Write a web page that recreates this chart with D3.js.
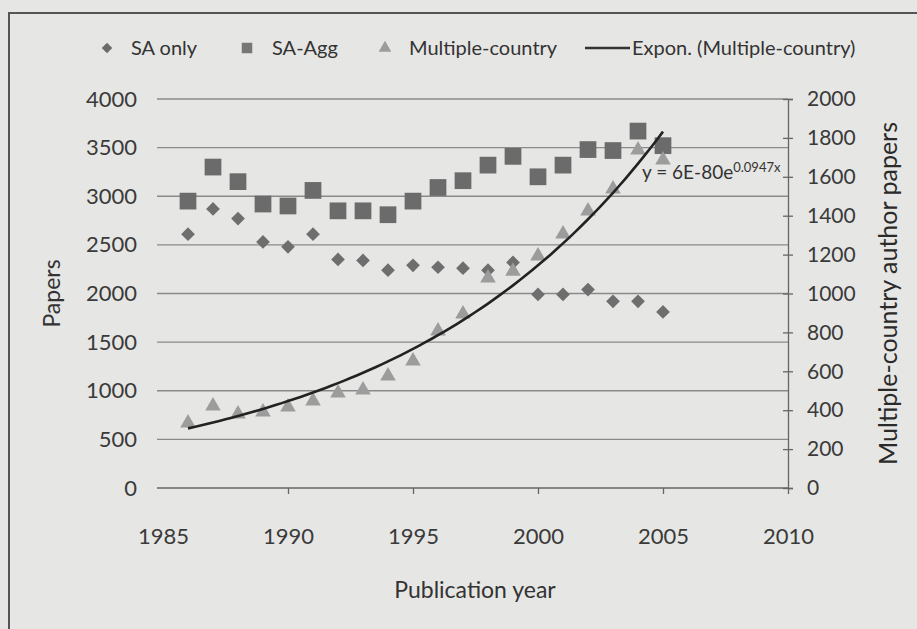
<!DOCTYPE html>
<html lang="en">
<head>
<meta charset="UTF-8">
<title>Papers by publication year</title>
<script src="https://d3js.org/d3.v7.min.js"></script>
<style>
  body { margin: 0; background: #e6e6e4; }
  svg { display: block; font-family: Lato, "Open Sans", sans-serif; }
  .tick-label { fill: #3a3a3a; }
</style>
</head>
<body>
<svg id="chart" width="917" height="629"></svg>
<script>
// values
const years = [1986, 1987, 1988, 1989, 1990, 1991, 1992, 1993, 1994, 1995,
               1996, 1997, 1998, 1999, 2000, 2001, 2002, 2003, 2004, 2005];
const saOnly = [2610, 2870, 2770, 2530, 2480, 2610, 2350, 2340, 2240, 2290,
                2270, 2260, 2240, 2320, 1990, 1990, 2040, 1920, 1920, 1810];
const saAgg = [2950, 3300, 3150, 2920, 2900, 3060, 2850, 2850, 2810, 2950,
               3090, 3160, 3320, 3410, 3200, 3320, 3480, 3470, 3670, 3520];
const multiCountry = [334, 422, 380, 391, 416, 447, 488, 504, 576, 653,
                      807, 895, 1080, 1115, 1193, 1306, 1424, 1537, 1738, 1686];
const leftTicks = [0, 500, 1000, 1500, 2000, 2500, 3000, 3500, 4000];
const rightTicks = [0, 200, 400, 600, 800, 1000, 1200, 1400, 1600, 1800, 2000];
const xTicks = [1985, 1990, 1995, 2000, 2005, 2010];

const svg = d3.select("#chart");
const plotLeft = 157, plotRight = 788, plotTop = 99, plotBottom = 488;

const x = d3.scaleLinear().domain([1985, 2010]).range([163, plotRight]);
const yL = d3.scaleLinear().domain([0, 4000]).range([plotBottom, plotTop]);
const yR = d3.scaleLinear().domain([0, 2000]).range([plotBottom, plotTop]);
const fmt = d3.format("d");

// page border of the scanned box
svg.append("path")
    .attr("d", `M9,629 V13 H917`)
    .attr("fill", "none")
    .attr("stroke", "#555")
    .attr("stroke-width", 2);

// gridlines
svg.append("g").selectAll("line")
    .data(leftTicks.filter(d => d > 0))
    .join("line")
    .attr("x1", plotLeft).attr("x2", plotRight)
    .attr("y1", d => yL(d)).attr("y2", d => yL(d))
    .attr("stroke", "#8a8a8a").attr("stroke-width", 1.3);

// left axis (labels only)
const gl = svg.append("g")
    .attr("transform", `translate(${plotLeft - 14},0)`)
    .call(d3.axisLeft(yL).tickValues(leftTicks).tickFormat(fmt).tickSize(0).tickPadding(6));
gl.select(".domain").remove();
gl.selectAll("text").attr("class", "tick-label").style("font-size", "22px")
    .style("font-family", "Lato, sans-serif");

// right axis
const gr = svg.append("g")
    .attr("transform", `translate(${plotRight},0)`)
    .call(d3.axisRight(yR).tickValues(rightTicks).tickFormat(fmt).tickSize(5).tickPadding(14));
gr.select(".domain").attr("stroke", "#666").attr("stroke-width", 1.3);
gr.selectAll(".tick line").attr("x1", -5).attr("stroke", "#666").attr("stroke-width", 1.3);
gr.selectAll("text").attr("class", "tick-label").style("font-size", "21px")
    .style("font-family", "Lato, sans-serif");

// bottom axis
const gb = svg.append("g")
    .attr("transform", `translate(0,${plotBottom})`)
    .call(d3.axisBottom(x).tickValues(xTicks).tickFormat(fmt).tickSize(6).tickPadding(34));
gb.select(".domain").attr("d", `M${plotLeft},0H${plotRight}`).attr("stroke", "#666").attr("stroke-width", 1.3);
gb.selectAll(".tick line").attr("stroke", "#666").attr("stroke-width", 1.3);
gb.selectAll(".tick").filter(d => d === 1985).select("line").remove();
gb.selectAll("text").attr("class", "tick-label").style("font-size", "22px")
    .style("font-family", "Lato, sans-serif");

// exponential trendline fitted to multiple-country series (least squares on ln y)
const lx = years, ly = multiCountry.map(v => Math.log(v));
const mx = d3.mean(lx), my = d3.mean(ly);
const b = d3.sum(lx, (v, i) => (v - mx) * (ly[i] - my)) / d3.sum(lx, v => (v - mx) * (v - mx));
const a = my - b * mx;
const trendX = d3.range(years[0], years[years.length - 1] + 0.001, 0.25);
const line = d3.line().x(d => x(d)).y(d => yR(Math.exp(a + b * d)));

// markers
const diamond = d3.symbol().type(d3.symbolDiamond2).size(120);
const square = d3.symbol().type(d3.symbolSquare).size(280);
const triangle = d3.symbol().type(d3.symbolTriangle).size(105);

svg.append("g").selectAll("path")
    .data(years.map((yr, i) => [yr, saAgg[i]]))
    .join("path")
    .attr("d", square)
    .attr("transform", d => `translate(${x(d[0])},${yL(d[1])})`)
    .attr("fill", "#6b6b6b");

svg.append("g").selectAll("path")
    .data(years.map((yr, i) => [yr, saOnly[i]]))
    .join("path")
    .attr("d", diamond)
    .attr("transform", d => `translate(${x(d[0])},${yL(d[1])})`)
    .attr("fill", "#6e6e6e");

svg.append("g").selectAll("path")
    .data(years.map((yr, i) => [yr, multiCountry[i]]))
    .join("path")
    .attr("d", triangle)
    .attr("transform", d => `translate(${x(d[0])},${yR(d[1])})`)
    .attr("fill", "#9c9c9c");

svg.append("path")
    .datum(trendX)
    .attr("d", line)
    .attr("fill", "none")
    .attr("stroke", "#222")
    .attr("stroke-width", 2.6);

// equation label
const eq = svg.append("text")
    .attr("x", 642).attr("y", 179)
    .attr("fill", "#333")
    .style("font-size", "19px");
eq.append("tspan").text("y = 6E-80e");
eq.append("tspan").attr("dy", -7).style("font-size", "13px").text("0.0947x");

// axis titles
svg.append("text")
    .attr("transform", `translate(60,${(plotTop + plotBottom) / 2}) rotate(-90)`)
    .attr("text-anchor", "middle")
    .attr("fill", "#333")
    .style("font-size", "23px")
    .text("Papers");

svg.append("text")
    .attr("transform", `translate(897,${(plotTop + plotBottom) / 2}) rotate(-90)`)
    .attr("text-anchor", "middle")
    .attr("fill", "#2a2a2a")
    .style("font-size", "25px")
    .text("Multiple-country author papers");

svg.append("text")
    .attr("x", 475).attr("y", 598)
    .attr("text-anchor", "middle")
    .attr("fill", "#333")
    .style("font-size", "23px")
    .text("Publication year");

// legend
const legendY = 48;
const lg = svg.append("g").attr("fill", "#333").style("font-size", "20px");
lg.append("path").attr("d", d3.symbol().type(d3.symbolDiamond2).size(70))
    .attr("transform", `translate(107,${legendY})`).attr("fill", "#6b6b6b");
lg.append("text").attr("x", 131).attr("y", legendY + 7).text("SA only");
lg.append("path").attr("d", d3.symbol().type(d3.symbolSquare).size(110))
    .attr("transform", `translate(247,${legendY})`).attr("fill", "#777");
lg.append("text").attr("x", 272).attr("y", legendY + 7).text("SA-Agg");
lg.append("path").attr("d", d3.symbol().type(d3.symbolTriangle).size(70))
    .attr("transform", `translate(385,${legendY})`).attr("fill", "#9c9c9c");
lg.append("text").attr("x", 409).attr("y", legendY + 7).text("Multiple-country");
lg.append("line").attr("x1", 585).attr("x2", 630).attr("y1", legendY).attr("y2", legendY)
    .attr("stroke", "#333").attr("stroke-width", 2.5);
lg.append("text").attr("x", 632).attr("y", legendY + 7).text("Expon. (Multiple-country)");
</script>
</body>
</html>
